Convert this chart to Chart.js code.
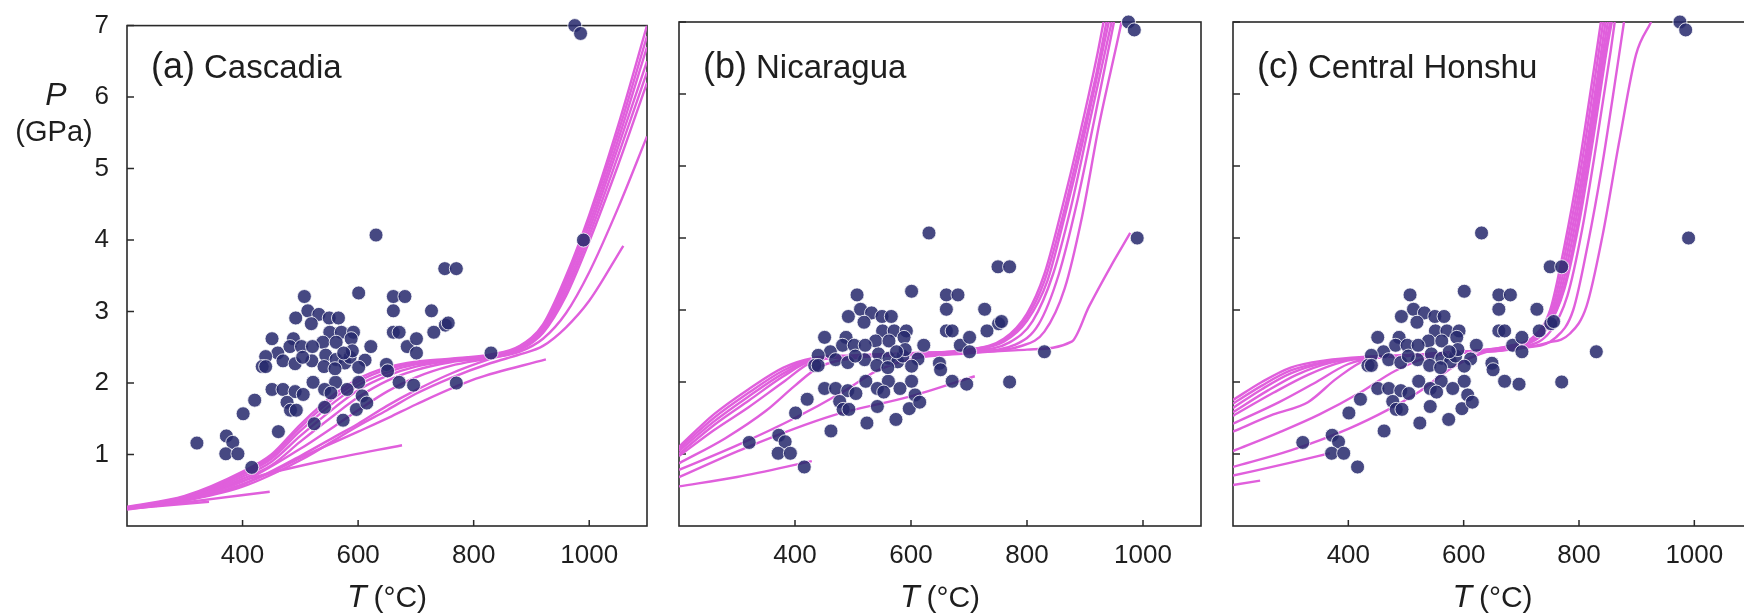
<!DOCTYPE html>
<html>
<head>
<meta charset="utf-8">
<script src="https://cdn.jsdelivr.net/npm/chart.js@4.4.1/dist/chart.umd.min.js"></script>
<style>
html, body { margin: 0; padding: 0; background: #fff; overflow: hidden; width: 1744px; height: 615px; }
.panel { position: absolute; top: 0; }
</style>
</head>
<body>
<div class="panel" style="left:0px"><canvas id="chartA" width="660" height="615"></canvas></div>
<div class="panel" style="left:660px"><canvas id="chartB" width="560" height="615"></canvas></div>
<div class="panel" style="left:1220px"><canvas id="chartC" width="540" height="615"></canvas></div>

<script>
// axes
const xTicks = [400, 600, 800, 1000];
const yTicks = [1, 2, 3, 4, 5, 6, 7];

// rock samples (same in every panel): temperature (°C) and pressure (GPa)
const sampleT = [975,985,990,631,750,770,507,601,661,681,
                 513,661,727,492,532,550,566,519,751,756,
                 731,661,671,551,571,592,451,488,539,562,
                 588,685,701,622,461,482,502,521,544,562,
                 577,586,612,701,830,440,470,491,520,541,
                 434,440,601,649,651,522,561,601,671,696,
                 770,451,470,491,542,581,505,553,607,421,
                 477,542,597,615,483,493,401,524,574,462,
                 321,372,383,371,392,416,590,575,504,560];
const sampleP = [7.0,6.89,4.0,4.07,3.6,3.6,3.21,3.26,3.21,3.21,
                 3.01,3.01,3.01,2.91,2.96,2.91,2.91,2.83,2.81,2.84,
                 2.71,2.71,2.71,2.71,2.71,2.71,2.62,2.62,2.57,2.57,
                 2.62,2.51,2.62,2.51,2.42,2.51,2.51,2.51,2.39,2.33,
                 2.28,2.36,2.32,2.42,2.42,2.37,2.31,2.27,2.31,2.23,
                 2.23,2.23,2.22,2.26,2.17,2.01,2.01,2.01,2.01,1.97,
                 2.0,1.91,1.91,1.88,1.91,1.91,1.84,1.86,1.82,1.76,
                 1.73,1.66,1.63,1.72,1.62,1.62,1.57,1.43,1.48,1.32,
                 1.16,1.26,1.17,1.01,1.01,0.82,2.45,2.42,2.36,2.2];

// slab-top P-T paths, [T, P] pairs
const cascadiaPaths = [
  [[200,0.27],[300,0.42],[400,0.76],[450,1.0],[500,1.42],[560,1.85],[600,2.06],[650,2.22],[700,2.3],[760,2.34],[830,2.4],[880,2.52],[920,2.82],[960,3.5],[1000,4.35],[1050,5.6],[1100,7.0]],
  [[200,0.26],[300,0.41],[400,0.74],[450,0.97],[500,1.38],[560,1.8],[600,2.02],[650,2.19],[700,2.28],[760,2.33],[830,2.39],[880,2.51],[920,2.8],[960,3.45],[1000,4.3],[1050,5.5],[1100,6.85]],
  [[200,0.25],[300,0.4],[400,0.72],[450,0.94],[500,1.33],[560,1.74],[600,1.97],[650,2.15],[700,2.26],[760,2.32],[830,2.38],[880,2.5],[920,2.78],[960,3.4],[1000,4.22],[1050,5.4],[1100,6.7]],
  [[200,0.25],[300,0.39],[400,0.69],[450,0.9],[500,1.26],[560,1.66],[600,1.9],[650,2.1],[700,2.23],[760,2.31],[830,2.37],[880,2.49],[920,2.76],[960,3.34],[1000,4.14],[1050,5.3],[1100,6.5]],
  [[200,0.25],[300,0.38],[400,0.66],[450,0.85],[500,1.18],[560,1.56],[600,1.8],[650,2.03],[700,2.18],[760,2.29],[830,2.36],[880,2.48],[920,2.73],[960,3.28],[1000,4.06],[1050,5.18],[1100,6.35]],
  [[210,0.26],[300,0.37],[400,0.62],[500,1.08],[560,1.4],[600,1.62],[650,1.88],[700,2.08],[760,2.24],[830,2.35],[880,2.44],[920,2.62],[960,2.98],[1000,3.55],[1050,4.45],[1100,5.45]],
  [[230,0.27],[300,0.36],[400,0.58],[500,0.98],[560,1.25],[600,1.43],[650,1.68],[700,1.9],[760,2.13],[830,2.34],[880,2.46],[920,2.7],[960,3.22],[1000,3.98],[1050,5.05],[1100,6.2]],
  [[250,0.28],[300,0.35],[400,0.55],[500,0.92],[600,1.4],[650,1.62],[700,1.85],[760,2.07],[830,2.28],[880,2.4],[920,2.52],[960,2.78],[1000,3.15],[1059,3.92]],
  [[260,0.3],[350,0.45],[450,0.75],[504,0.97],[600,1.32],[654,1.52],[700,1.7],[804,2.06],[925,2.33]],
  [[226,0.26],[330,0.45],[429,0.7],[550,0.93],[676,1.13]],
  [[200,0.23],[300,0.33],[447,0.48]],
  [[200,0.24],[342,0.34]]
];

const nicaraguaPaths = [
  [[200,1.1],[260,1.55],[320,1.9],[380,2.2],[430,2.33],[500,2.37],[600,2.4],[700,2.45],[760,2.6],[800,2.95],[830,3.5],[860,4.4],[890,5.4],[920,6.5],[932,7.0]],
  [[200,1.07],[260,1.5],[320,1.85],[380,2.16],[430,2.32],[500,2.36],[600,2.4],[700,2.45],[760,2.58],[800,2.9],[830,3.4],[860,4.25],[890,5.25],[920,6.3],[937,7.0]],
  [[200,1.04],[260,1.45],[320,1.8],[380,2.12],[430,2.31],[500,2.36],[600,2.39],[700,2.44],[760,2.56],[800,2.85],[835,3.4],[865,4.3],[895,5.3],[925,6.4],[941,7.0]],
  [[200,1.0],[260,1.4],[320,1.74],[380,2.08],[430,2.3],[500,2.35],[600,2.39],[700,2.43],[770,2.55],[810,2.85],[845,3.5],[875,4.4],[905,5.5],[935,6.6],[946,7.0]],
  [[200,0.97],[260,1.33],[320,1.65],[380,2.0],[430,2.28],[500,2.35],[600,2.38],[700,2.42],[780,2.52],[820,2.8],[855,3.5],[885,4.45],[915,5.6],[945,6.8],[950,7.0]],
  [[200,0.87],[280,1.22],[350,1.6],[400,1.95],[440,2.2],[500,2.33],[600,2.37],[700,2.41],[790,2.5],[830,2.7],[865,3.3],[895,4.3],[925,5.6],[955,6.7],[963,7.0]],
  [[200,0.78],[300,1.12],[400,1.5],[480,1.85],[540,2.15],[600,2.32],[700,2.4],[800,2.45],[877,2.56],[907,3.05],[944,3.6],[978,4.07]],
  [[200,0.68],[316,1.09],[463,1.53],[599,1.8],[710,2.08]],
  [[200,0.55],[300,0.68],[429,0.9]]
];

const honshuPaths = [
  [[200,1.75],[250,2.0],[300,2.2],[360,2.3],[430,2.35],[500,2.37],[600,2.42],[680,2.5],[720,2.62],[750,3.0],[775,3.9],[800,5.0],[825,6.3],[838,7.0]],
  [[200,1.7],[250,1.95],[300,2.16],[360,2.28],[430,2.34],[500,2.37],[600,2.42],[680,2.5],[725,2.65],[755,3.05],[780,3.95],[805,5.05],[830,6.35],[842,7.0]],
  [[200,1.64],[250,1.9],[300,2.12],[360,2.27],[430,2.34],[500,2.37],[600,2.42],[685,2.5],[730,2.68],[760,3.1],[785,4.0],[810,5.1],[835,6.4],[846,7.0]],
  [[200,1.58],[260,1.88],[310,2.1],[370,2.27],[430,2.34],[500,2.37],[600,2.42],[690,2.5],[735,2.7],[765,3.15],[790,4.05],[815,5.2],[840,6.5],[850,7.0]],
  [[200,1.53],[270,1.85],[330,2.1],[390,2.28],[440,2.34],[500,2.37],[600,2.42],[695,2.5],[740,2.72],[770,3.2],[795,4.1],[820,5.3],[845,6.6],[854,7.0]],
  [[200,1.42],[280,1.72],[340,1.98],[400,2.25],[440,2.33],[500,2.36],[600,2.41],[700,2.5],[745,2.75],[775,3.3],[800,4.2],[825,5.4],[850,6.7],[857,7.0]],
  [[200,1.31],[270,1.55],[330,1.72],[380,2.05],[430,2.3],[500,2.36],[600,2.41],[705,2.49],[750,2.7],[780,3.2],[805,4.1],[830,5.3],[855,6.6],[862,7.0]],
  [[200,1.04],[280,1.3],[350,1.55],[420,1.85],[480,2.15],[540,2.35],[600,2.41],[700,2.47],[760,2.62],[790,3.0],[815,3.9],[840,5.0],[865,6.3],[878,7.0]],
  [[200,0.82],[300,1.05],[400,1.35],[470,1.62],[520,1.85],[580,2.2],[640,2.42],[700,2.47],[743,2.54],[784,2.67],[813,3.05],[841,4.04],[870,5.35],[899,6.55],[925,7.0]],
  [[200,0.7],[300,0.88],[368,1.01]],
  [[200,0.57],[247,0.63]]
];

const FONT = "'Liberation Sans', Arial, sans-serif";
const INK = '#1e1e1e';
Chart.defaults.font.family = FONT;
Chart.defaults.color = INK;

// box round the plot area and inward tick marks
const framePlugin = {
  id: 'frame',
  beforeDatasetsDraw(chart) {
    const { ctx, chartArea: a, scales } = chart;
    ctx.save();
    ctx.strokeStyle = '#2a2a2a';
    ctx.lineWidth = 1.6;
    ctx.strokeRect(a.left, a.top, a.right - a.left, a.bottom - a.top);
    ctx.lineWidth = 1.5;
    ctx.beginPath();
    xTicks.forEach(v => {
      const px = scales.x.getPixelForValue(v);
      ctx.moveTo(px, a.bottom);
      ctx.lineTo(px, a.bottom - 6);
    });
    yTicks.forEach(v => {
      const py = scales.y.getPixelForValue(v);
      ctx.moveTo(a.left, py);
      ctx.lineTo(a.left + 7, py);
    });
    ctx.stroke();
    ctx.restore();
  }
};

// panel tag, axis titles
const textPlugin = {
  id: 'panelText',
  afterDraw(chart, args, opts) {
    const { ctx, chartArea: a } = chart;
    ctx.save();
    ctx.fillStyle = INK;
    ctx.textBaseline = 'alphabetic';
    ctx.textAlign = 'left';

    // "(a) Cascadia"
    ctx.font = '36px ' + FONT;
    const x0 = a.left + 24;
    ctx.fillText(opts.tag, x0, 78);
    const tw = ctx.measureText(opts.tag).width;
    ctx.font = '33px ' + FONT;
    ctx.fillText(opts.name, x0 + tw + 9, 78);

    // x title: italic T and (°C)
    const cx = (a.left + a.right) / 2;
    ctx.font = 'italic 32px ' + FONT;
    const tW = ctx.measureText('T').width;
    ctx.font = '30px ' + FONT;
    const uW = ctx.measureText('(°C)').width;
    const gap = 7;
    const start = cx - (tW + gap + uW) / 2;
    ctx.font = 'italic 32px ' + FONT;
    ctx.fillText('T', start, 607);
    ctx.font = '30px ' + FONT;
    ctx.fillText('(°C)', start + tW + gap, 607);

    // y title only on the first panel
    if (opts.yTitle) {
      ctx.textAlign = 'center';
      ctx.font = 'italic 32px ' + FONT;
      ctx.fillText('P', 56, 105);
      ctx.font = '29px ' + FONT;
      ctx.fillText('(GPa)', 54, 141);
    }
    ctx.restore();
  }
};

function buildPanel(id, paths, tag, name, geom) {
  const datasets = [{
    label: 'samples',
    data: sampleT.map((t, i) => ({ x: t, y: sampleP[i] })),
    showLine: false,
    pointRadius: 7,
    pointHoverRadius: 7,
    pointBackgroundColor: 'rgba(40,42,110,0.86)',
    pointBorderColor: 'rgba(255,255,255,0.8)',
    pointBorderWidth: 1,
    clip: false,
    order: 0
  }];
  paths.forEach((p, i) => {
    datasets.push({
      label: 'path ' + (i + 1),
      data: p.map(d => ({ x: d[0], y: d[1] })),
      borderColor: '#e05fdc',
      borderWidth: 2.4,
      pointRadius: 0,
      cubicInterpolationMode: 'monotone',
      fill: false,
      order: 1
    });
  });

  return new Chart(document.getElementById(id), {
    type: 'line',
    data: { datasets: datasets },
    options: {
      responsive: false,
      animation: false,
      devicePixelRatio: 1,
      events: [],
      layout: { padding: { top: 22, right: geom.padRight, left: 0, bottom: 0 } },
      plugins: {
        legend: { display: false },
        tooltip: { enabled: false },
        panelText: { tag: tag, name: name, yTitle: geom.yTitle }
      },
      scales: {
        x: {
          type: 'linear',
          min: 200,
          max: 1100,
          grid: { display: false },
          border: { display: false },
          afterBuildTicks: s => { s.ticks = xTicks.map(v => ({ value: v })); },
          afterFit: s => { s.height = 89; },
          ticks: { font: { size: 26 }, color: INK, padding: 6, maxRotation: 0, callback: v => String(v) }
        },
        y: {
          type: 'linear',
          min: 0,
          max: 7,
          grid: { display: false },
          border: { display: false },
          afterBuildTicks: s => { s.ticks = yTicks.map(v => ({ value: v })); },
          afterFit: s => { s.width = geom.yWidth; },
          ticks: { display: geom.yLabels, font: { size: 26 }, color: INK, padding: 10, callback: v => String(v) }
        }
      }
    },
    plugins: [framePlugin, textPlugin]
  });
}

buildPanel('chartA', cascadiaPaths, '(a)', 'Cascadia', { yWidth: 127, padRight: 13, yLabels: true, yTitle: true });
buildPanel('chartB', nicaraguaPaths, '(b)', 'Nicaragua', { yWidth: 19, padRight: 19, yLabels: false, yTitle: false });
buildPanel('chartC', honshuPaths, '(c)', 'Central Honshu', { yWidth: 13, padRight: 6, yLabels: false, yTitle: false });
</script>
</body>
</html>
